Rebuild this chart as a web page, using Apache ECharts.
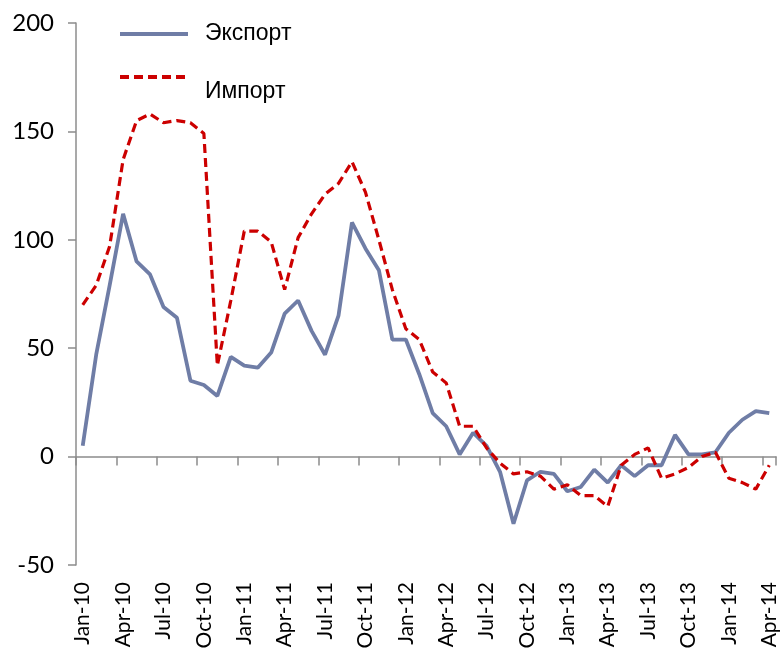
<!DOCTYPE html>
<html>
<head>
<meta charset="utf-8">
<script src="https://cdn.jsdelivr.net/npm/echarts@6/dist/echarts.min.js"></script>
<style>
  html, body { margin: 0; padding: 0; background: #fff; }
  #chart { width: 784px; height: 660px; }
</style>
</head>
<body>
<div id="chart"></div>
<script>
// месяцы Jan-10 .. Apr-14
var months = [
  "Jan-10","Feb-10","Mar-10","Apr-10","May-10","Jun-10","Jul-10","Aug-10","Sep-10","Oct-10","Nov-10","Dec-10",
  "Jan-11","Feb-11","Mar-11","Apr-11","May-11","Jun-11","Jul-11","Aug-11","Sep-11","Oct-11","Nov-11","Dec-11",
  "Jan-12","Feb-12","Mar-12","Apr-12","May-12","Jun-12","Jul-12","Aug-12","Sep-12","Oct-12","Nov-12","Dec-12",
  "Jan-13","Feb-13","Mar-13","Apr-13","May-13","Jun-13","Jul-13","Aug-13","Sep-13","Oct-13","Nov-13","Dec-13",
  "Jan-14","Feb-14","Mar-14","Apr-14"
];

var exportValues = [
  5, 47, 79, 112, 90, 84, 69, 64, 35, 33, 28, 46,
  42, 41, 48, 66, 72, 58, 47, 65, 108, 96, 86, 54,
  54, 38, 20, 14, 1, 11, 5, -7, -31, -11, -7, -8,
  -16, -14, -6, -12, -4, -9, -4, -4, 10, 1, 1, 2,
  11, 17, 21, 20
];

var importValues = [
  70, 79, 97, 137, 155, 158, 154, 155, 154, 149, 42, 72,
  104, 104, 99, 77, 101, 112, 121, 126, 136, 122, 100, 77,
  59, 54, 39, 34, 14, 14, 4, -3, -8, -7, -9, -15,
  -13, -18, -18, -23, -4, 1, 4, -10, -8, -5, 0, 2,
  -10, -12, -15, -4
];

var yTicks = { min: -50, max: 200, step: 50 };

var chart = echarts.init(document.getElementById("chart"));

var axisGray = "#8c8c8c";

var legendBase = {
  left: 113,
  orient: "vertical",
  itemWidth: 68,
  itemHeight: 14,
  itemGap: 22,
  itemStyle: { opacity: 0 }, // прячем кружок, остаётся только линия
  lineStyle: { width: 4 },
  textStyle: {
    fontFamily: "Liberation Sans",
    fontSize: 23,
    color: "#000",
    lineHeight: 30,
    rich: {
      t: { fontFamily: "Liberation Sans", fontSize: 23, color: "#000", lineHeight: 30, padding: [0, 0, 0, 12] }
    }
  }
};

var option = {
  animation: false,
  backgroundColor: "#ffffff",
  grid: { left: 76, right: 8, top: 23, bottom: 95, containLabel: false },
  legend: [
    Object.assign({}, legendBase, {
      data: ["Экспорт"],
      top: 14,
      formatter: function (name) { return "{t|" + name + "}"; }
    }),
    Object.assign({}, legendBase, {
      data: ["Импорт"],
      top: 42,
      // текст чуть ниже линии, как в оригинале
      formatter: function (name) { return "{t|}\n{t|" + name + "}"; }
    })
  ],
  xAxis: [
    {
      // ось на нуле: линия и засечки
      type: "category",
      data: months,
      axisLine: { onZero: true, lineStyle: { color: axisGray, width: 1.5 } },
      axisTick: { show: true, interval: 2, length: 9, lineStyle: { color: axisGray, width: 1.5 } },
      axisLabel: { show: false },
      splitLine: { show: false }
    },
    {
      // подписи внизу
      type: "category",
      data: months,
      position: "bottom",
      axisLine: { show: false, onZero: false },
      axisTick: { show: false },
      axisLabel: {
        interval: 2,
        rotate: 90,
        margin: 17,
        fontFamily: "Lato",
        fontSize: 21,
        color: "#000"
      },
      splitLine: { show: false }
    }
  ],
  yAxis: {
    type: "value",
    min: yTicks.min,
    max: yTicks.max,
    interval: yTicks.step,
    axisLine: { show: true, lineStyle: { color: axisGray, width: 1.5 } },
    axisTick: { show: true, length: 8, lineStyle: { color: axisGray, width: 1.5 } },
    axisLabel: { margin: 22, fontFamily: "Lato", fontSize: 24, color: "#000" },
    splitLine: { show: false }
  },
  series: [
    {
      name: "Экспорт",
      type: "line",
      xAxisIndex: 0,
      data: exportValues,
      symbol: "none",
      smooth: false,
      itemStyle: { color: "#6f7da6" },
      lineStyle: { color: "#6f7da6", width: 3.8 }
    },
    {
      name: "Импорт",
      type: "line",
      xAxisIndex: 0,
      data: importValues,
      symbol: "none",
      smooth: false,
      itemStyle: { color: "#cc0000" },
      lineStyle: { color: "#cc0000", width: 3.2, type: [9, 5] }
    }
  ]
};

chart.setOption(option);
</script>
</body>
</html>
